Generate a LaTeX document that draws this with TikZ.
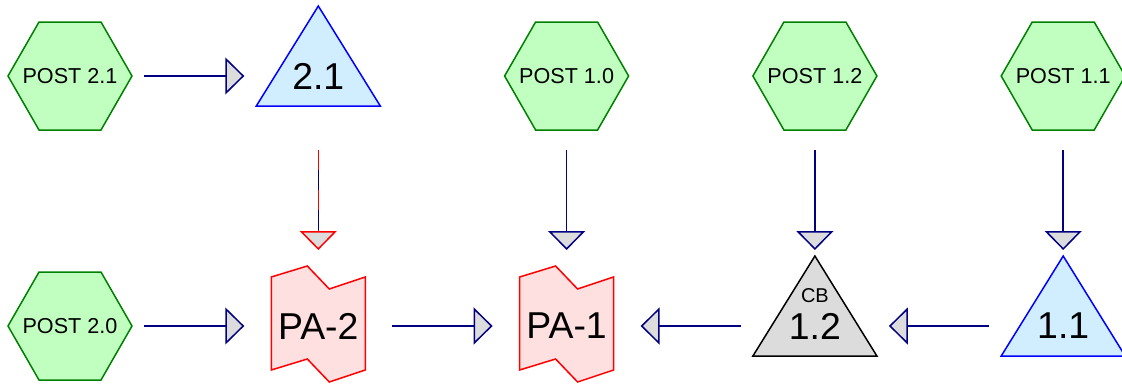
\documentclass[tikz,border=0pt]{standalone}
\usepackage{fontspec}
\setmainfont{Liberation Sans}
\usepackage{tikz}
\usetikzlibrary{arrows.meta, positioning, backgrounds, calc}
\definecolor{pgreen}{HTML}{008000}
\definecolor{pmint}{HTML}{C0FFC0}
\definecolor{tblue}{HTML}{0000FF}
\definecolor{tsky}{HTML}{D0EEFF}
\definecolor{pared}{HTML}{FF0000}
\definecolor{papink}{HTML}{FFE0E0}
\definecolor{cbgray}{HTML}{DCDCDC}
\definecolor{tipgray}{HTML}{DCDCDC}
\definecolor{lnavy}{HTML}{000080}
\newcommand{\fpost}{\fontsize{21.6}{24}\selectfont}
\newcommand{\fbig}{\fontsize{37.4}{40}\selectfont}
\newcommand{\fcb}{\fontsize{20}{22}\selectfont}
\tikzset{
  post/.style={inner sep=0pt, font=\fpost},
  tri/.style={inner sep=0pt, font=\fbig},
  flag/.style={inner sep=0pt, font=\fbig},
  outline/.style={line width=1.5pt, line join=miter},
  flow/.style={-{Triangle[length=19pt, width=37pt, fill=tipgray]}, draw=lnavy, line width=1.5pt},
  hflow/.style={flow, shorten <=74pt, shorten >=74pt},
  vflow/.style={flow, shorten <=74pt, shorten >=76pt}
}
\begin{document}
\begin{tikzpicture}[x=1pt, y=-1pt, node distance=250pt and 248.3pt, on grid]
  \useasboundingbox (0,0) rectangle (1122,383);
  % top row
  \node[post] (p21) at (70,76) {POST 2.1};
  \node[tri, right=of p21] (t21) {2.1};
  \node[post, right=of t21] (p10) {POST 1.0};
  \node[post, right=of p10] (p12) {POST 1.2};
  \node[post, right=of p12] (p11) {POST 1.1};

  % bottom row
  \node[post, below=of p21] (p20) {POST 2.0};
  \node[flag, below=of t21] (pa2) {PA-2};
  \node[flag, below=of p10] (pa1) {PA-1};
  \node[tri, below=of p12, label={[font=\fcb, inner sep=0pt, label distance=10pt]above:CB}] (t12) {1.2};
  \node[tri, below=of p11] (t11) {1.1};

  % shapes behind the labels
  \begin{scope}[on background layer]
    \foreach \n in {p21, p10, p12, p11, p20}
      \draw[outline, draw=pgreen, fill=pmint] ($(\n.center)+(-62,0)$) -- ++(31,-54) -- ++(62,0)
        -- ++(31,54) -- ++(-31,54) -- ++(-62,0) -- cycle;
    \foreach \n/\col/\fil in {t21/tblue/tsky, t12/black/cbgray, t11/tblue/tsky}
      \draw[outline, draw=\col, fill=\fil] ($(\n.center)+(0,-70)$) -- ($(\n.center)+(62,30)$)
        -- ($(\n.center)+(-62,30)$) -- cycle;
    \foreach \n in {pa2, pa1}
      \draw[outline, draw=pared, fill=papink] ($(\n.center)+(-47,-49)$) -- ++(36,-11) -- ++(22,23)
        -- ++(36,-12) -- ++(0,93) -- ++(-36,12) -- ++(-22,-23) -- ++(-36,11) -- cycle;
  \end{scope}

  \draw[hflow] (p21.center) -- (t21.center);
  \draw[hflow] (p20.center) -- (pa2.center);
  \draw[hflow] (pa2.center) -- (pa1.center);
  \draw[hflow] (t12.center) -- (pa1.center);
  \draw[hflow] (t11.center) -- (t12.center);
  \draw[lnavy, line width=1.5pt, shorten <=74pt, shorten >=94pt] (t21.center) -- (pa2.center);
  \draw[vflow, draw=pared, dash pattern=on 20pt off 20pt] (t21.center) -- (pa2.center);
  \draw[vflow] (p10.center) -- (pa1.center);
  \draw[vflow] (p12.center) -- (t12.center);
  \draw[vflow] (p11.center) -- (t11.center);
\end{tikzpicture}
\end{document}
